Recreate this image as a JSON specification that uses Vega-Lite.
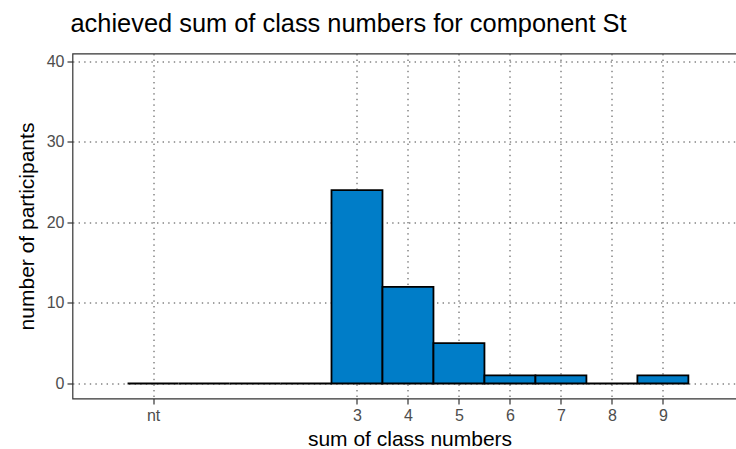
{
  "$schema": "https://vega.github.io/schema/vega-lite/v6.json",
  "width": 674,
  "height": 345,
  "autosize": {"type": "none"},
  "padding": {"left": 72.5, "top": 53.5, "right": 0, "bottom": 50.5},
  "background": "white",
  "title": {
    "text": "achieved sum of class numbers for component St",
    "anchor": "start",
    "frame": "group",
    "font": "Liberation Sans",
    "fontSize": 25.4,
    "fontWeight": "normal",
    "color": "#000000",
    "baseline": "alphabetic",
    "offset": 18,
    "dy": 22,
    "dx": -2
  },
  "data": {
    "values": [
      {"cls": -1, "lo": -1.5, "hi": -0.5, "n": 0},
      {"cls": 0, "lo": -0.5, "hi": 0.5, "n": 0},
      {"cls": 1, "lo": 0.5, "hi": 1.5, "n": 0},
      {"cls": 2, "lo": 1.5, "hi": 2.5, "n": 0},
      {"cls": 3, "lo": 2.5, "hi": 3.5, "n": 24},
      {"cls": 4, "lo": 3.5, "hi": 4.5, "n": 12},
      {"cls": 5, "lo": 4.5, "hi": 5.5, "n": 5},
      {"cls": 6, "lo": 5.5, "hi": 6.5, "n": 1},
      {"cls": 7, "lo": 6.5, "hi": 7.5, "n": 1},
      {"cls": 8, "lo": 7.5, "hi": 8.5, "n": 0},
      {"cls": 9, "lo": 8.5, "hi": 9.5, "n": 1}
    ]
  },
  "mark": {"type": "rect", "fill": "#007DC8", "stroke": "#000000", "strokeWidth": 1.8},
  "encoding": {
    "x": {
      "field": "lo",
      "type": "quantitative",
      "scale": {"domain": [-2.58, 10.64], "nice": false, "zero": false},
      "axis": {
        "values": [-1, 3, 4, 5, 6, 7, 8, 9],
        "labelExpr": "datum.value == -1 ? 'nt' : datum.label",
        "title": "sum of class numbers",
        "titleFontSize": 21,
        "titlePadding": 5,
        "labelPadding": 3
      }
    },
    "x2": {"field": "hi"},
    "y": {
      "field": "n",
      "type": "quantitative",
      "scale": {"domain": [-1.86, 40.94], "nice": false, "zero": false},
      "axis": {
        "values": [0, 10, 20, 30, 40],
        "title": "number of participants",
        "titleFontSize": 21,
        "titlePadding": 9,
        "labelPadding": 3
      }
    },
    "y2": {"datum": 0}
  },
  "config": {
    "view": {"stroke": "#333333", "strokeWidth": 1.2},
    "axis": {
      "domain": false,
      "grid": true,
      "gridColor": "#444444",
      "gridDash": [1.4, 4.2],
      "gridWidth": 1,
      "gridOpacity": 1,
      "tickColor": "#333333",
      "tickSize": 5.5,
      "tickWidth": 1.2,
      "labelFont": "Liberation Sans",
      "labelFontSize": 16,
      "labelColor": "#4D4D4D",
      "titleFont": "Liberation Sans",
      "titleFontWeight": "normal",
      "titleColor": "#000000"
    }
  }
}
